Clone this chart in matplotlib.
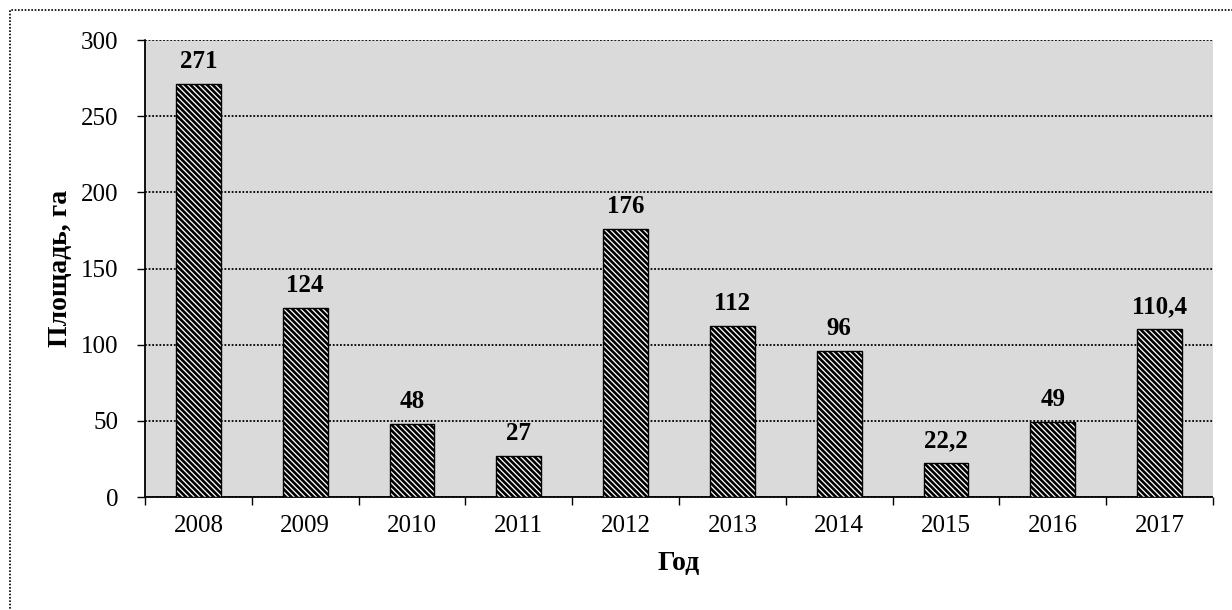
import matplotlib
matplotlib.use('Agg')
from matplotlib import pyplot as plt
from matplotlib.patches import Rectangle

years = ['2008', '2009', '2010', '2011', '2012', '2013', '2014', '2015', '2016', '2017']
area_ha = [271, 124, 48, 27, 176, 112, 96, 22.2, 49, 110.4]
value_labels = ['271', '124', '48', '27', '176', '112', '96', '22,2', '49', '110,4']

plt.rcParams['font.family'] = ['Liberation Serif', 'DejaVu Serif']
plt.rcParams['hatch.linewidth'] = 1.9

fig = plt.figure(figsize=(12.32, 6.1), dpi=100)
ax = fig.add_axes([0.1177, 0.1852, 0.8669, 0.7492])

# grey dotted-looking background of the plot area
ax.set_facecolor('#dadada')

x = list(range(len(years)))
bars = ax.bar(x, area_ha, width=0.42, color='white', edgecolor='black',
              hatch='\\\\\\\\\\\\', linewidth=1.0, zorder=3)

for xi, v, lab in zip(x, area_ha, value_labels):
    ax.annotate(lab, (xi, v), xytext=(0, 11.5), textcoords='offset points',
                ha='center', va='baseline', fontsize=18, fontweight='bold', zorder=4)

ax.set_xlim(-0.5, len(years) - 0.5)
ax.set_ylim(0, 300)
ax.set_yticks([0, 50, 100, 150, 200, 250, 300])
ax.set_xticks(x)
ax.set_xticklabels(years)
ax.set_xticks([i - 0.5 for i in range(len(years) + 1)], minor=True)
ax.tick_params(axis='x', which='major', length=0, pad=13, labelsize=18)
ax.tick_params(axis='x', which='minor', length=6, width=1, direction='out')
ax.tick_params(axis='y', length=6, width=1, direction='out', pad=13, labelsize=18)

ax.yaxis.grid(True, linestyle=(0, (1, 1)), color='black', linewidth=1.3, zorder=1)
ax.set_axisbelow(True)
for side in ['top', 'right']:
    ax.spines[side].set_visible(False)
for side in ['left', 'bottom']:
    ax.spines[side].set_linestyle((0, (1, 1)))
    ax.spines[side].set_linewidth(1.3)

ax.set_xlabel('Год', fontsize=20, fontweight='bold', labelpad=10)
ax.set_ylabel('Площадь, га', fontsize=20, fontweight='bold', labelpad=6)

# dotted outer frame of the chart
frame = Rectangle((10 / 1232, -0.1), 1.2, 1 - 10 / 610 + 0.1, transform=fig.transFigure,
                  fill=False, edgecolor='black', linestyle=(0, (1, 1)), linewidth=1.2)
fig.patches.append(frame)

fig.savefig('out.png', dpi=100)
